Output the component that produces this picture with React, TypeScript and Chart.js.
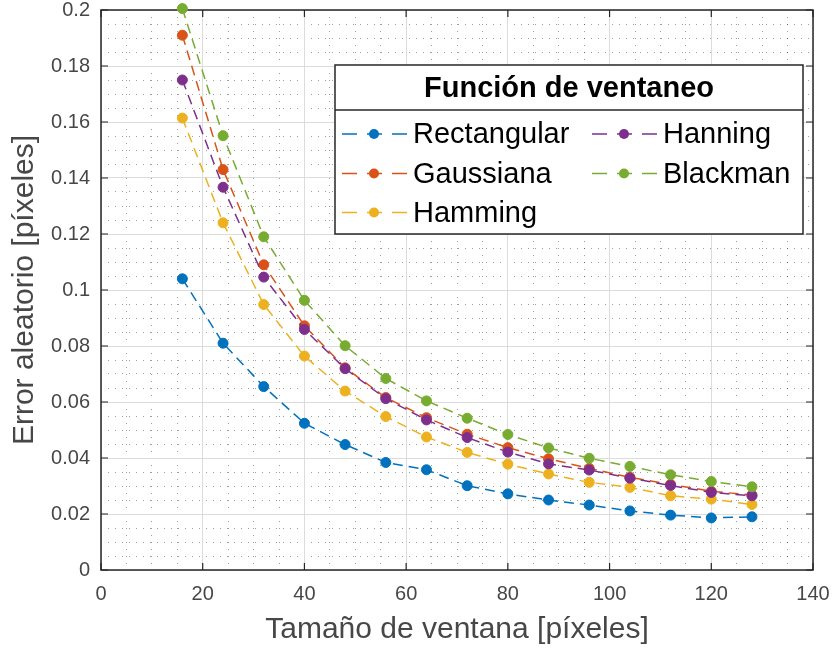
import React, { useEffect, useRef } from "react";
import { Chart, registerables } from "chart.js";

Chart.register(...registerables);

// Window sizes (pixels) evaluated for every window function
const windowSizes = [16, 24, 32, 40, 48, 56, 64, 72, 80, 88, 96, 104, 112, 120, 128];

// Random error (pixels) per window function
const rectangular = [0.104, 0.081, 0.0655, 0.0524, 0.0448, 0.0384, 0.0358, 0.0301, 0.0272, 0.025, 0.0232, 0.0211, 0.0196, 0.0186, 0.019];
const gaussiana = [0.191, 0.143, 0.109, 0.0872, 0.0722, 0.0616, 0.0544, 0.0485, 0.0437, 0.0397, 0.0363, 0.0331, 0.0306, 0.0281, 0.0268];
const hamming = [0.1614, 0.124, 0.0948, 0.0764, 0.0639, 0.0548, 0.0475, 0.042, 0.0378, 0.0343, 0.0313, 0.0295, 0.0265, 0.0253, 0.0234];
const hanning = [0.175, 0.1367, 0.1046, 0.0859, 0.0719, 0.0612, 0.0536, 0.0473, 0.0421, 0.0379, 0.0357, 0.0328, 0.0302, 0.0277, 0.0265];
const blackman = [0.2005, 0.1551, 0.119, 0.0963, 0.0801, 0.0684, 0.0604, 0.0542, 0.0484, 0.0436, 0.0399, 0.037, 0.034, 0.0316, 0.0297];

const seriesNames = ["Rectangular", "Gaussiana", "Hamming", "Hanning", "Blackman"];
const seriesValues = [rectangular, gaussiana, hamming, hanning, blackman];
const seriesColors = ["#0072BD", "#D95319", "#EDB120", "#7E2F8E", "#77AC30"];

const legendTitle = "Función de ventaneo";
const xTitle = "Tamaño de ventana [píxeles]";
const yTitle = "Error aleatorio [píxeles]";

const FONT = '"Liberation Sans", Arial, Helvetica, sans-serif';
const AXIS_DARK = "#262626";
const LABEL_GRAY = "#474747";

// Axes box with inward-pointing major ticks on all four sides
const framePlugin = {
  id: "frameBox",
  beforeDatasetsDraw(chart: any) {
    const { ctx, chartArea, scales } = chart;
    const { left, right, top, bottom } = chartArea;
    const tl = 7;
    ctx.save();
    ctx.strokeStyle = AXIS_DARK;
    ctx.lineWidth = 1.2;
    ctx.beginPath();
    scales.x.ticks.forEach((t: any) => {
      const px = scales.x.getPixelForValue(t.value);
      ctx.moveTo(px, bottom);
      ctx.lineTo(px, bottom - tl);
      ctx.moveTo(px, top);
      ctx.lineTo(px, top + tl);
    });
    scales.y.ticks.forEach((t: any) => {
      const py = scales.y.getPixelForValue(t.value);
      ctx.moveTo(left, py);
      ctx.lineTo(left + tl, py);
      ctx.moveTo(right, py);
      ctx.lineTo(right - tl, py);
    });
    ctx.stroke();
    ctx.lineWidth = 1.5;
    ctx.strokeRect(left, top, right - left, bottom - top);
    ctx.restore();
  },
};

// Boxed legend with a title row and entries laid out in two columns
const legendBoxPlugin = {
  id: "legendBox",
  afterDraw(chart: any) {
    const { ctx } = chart;
    const box = { left: 335, top: 65, right: 803, bottom: 234 };
    const titleBottom = 110;
    const rowY = [134, 173.5, 212.5];
    const colX = [342, 592];
    ctx.save();
    ctx.fillStyle = "#ffffff";
    ctx.fillRect(box.left, box.top, box.right - box.left, box.bottom - box.top);
    ctx.strokeStyle = AXIS_DARK;
    ctx.lineWidth = 1.5;
    ctx.strokeRect(box.left, box.top, box.right - box.left, box.bottom - box.top);
    ctx.beginPath();
    ctx.moveTo(box.left, titleBottom);
    ctx.lineTo(box.right, titleBottom);
    ctx.stroke();

    ctx.fillStyle = "#000000";
    ctx.font = `bold 29px ${FONT}`;
    ctx.textAlign = "center";
    ctx.textBaseline = "middle";
    ctx.fillText(legendTitle, (box.left + box.right) / 2, (box.top + titleBottom) / 2 + 1);

    chart.data.datasets.forEach((ds: any, i: number) => {
      const col = Math.floor(i / 3);
      const row = i % 3;
      const x0 = colX[col];
      const y = rowY[row];
      ctx.strokeStyle = ds.borderColor;
      ctx.lineWidth = 1.5;
      ctx.setLineDash([15, 10]);
      ctx.beginPath();
      ctx.moveTo(x0, y);
      ctx.lineTo(x0 + 65, y);
      ctx.stroke();
      ctx.setLineDash([]);
      ctx.fillStyle = ds.borderColor;
      ctx.beginPath();
      ctx.arc(x0 + 32, y, 5, 0, Math.PI * 2);
      ctx.fill();
      ctx.fillStyle = "#000000";
      ctx.font = `29px ${FONT}`;
      ctx.textAlign = "left";
      ctx.fillText(ds.label, x0 + 71, y + 1);
    });
    ctx.restore();
  },
};

export default function App() {
  const canvasRef = useRef<HTMLCanvasElement | null>(null);

  useEffect(() => {
    const canvas = canvasRef.current;
    if (!canvas) return;

    const datasets = seriesNames.map((name, i) => ({
      label: name,
      data: windowSizes.map((x, j) => ({ x, y: seriesValues[i][j] })),
      borderColor: seriesColors[i],
      backgroundColor: seriesColors[i],
      pointBackgroundColor: seriesColors[i],
      pointBorderColor: seriesColors[i],
      borderWidth: 1.5,
      borderDash: [10, 6],
      pointRadius: 5,
      pointBorderWidth: 1,
      pointHoverRadius: 5,
      tension: 0,
      showLine: true,
      clip: false,
      // later series are painted on top
      order: seriesNames.length - i,
    }));

    const tickFont = { family: FONT, size: 20 };
    const titleFont = { family: FONT, size: 30 };

    const chart = new Chart(canvas, {
      type: "scatter",
      data: { datasets },
      options: {
        animation: false,
        responsive: false,
        devicePixelRatio: 1,
        events: [],
        layout: { padding: { left: 0, top: 10, right: 20, bottom: 0 } },
        plugins: {
          legend: { display: false },
          tooltip: { enabled: false },
        },
        scales: {
          xMinor: {
            type: "linear",
            position: "bottom",
            min: 0,
            max: 140,
            ticks: { display: false, stepSize: 5 },
            grid: { color: "rgba(0,0,0,0.38)", lineWidth: 1, drawTicks: false },
            border: { display: false, dash: [1, 6] },
            afterFit: (s: any) => {
              s.height = 0;
              s.paddingLeft = 0;
              s.paddingRight = 0;
            },
          },
          yMinor: {
            type: "linear",
            position: "left",
            min: 0,
            max: 0.2,
            ticks: { display: false, stepSize: 0.005 },
            grid: { color: "rgba(0,0,0,0.38)", lineWidth: 1, drawTicks: false },
            border: { display: false, dash: [1, 6] },
            afterFit: (s: any) => {
              s.width = 0;
              s.paddingTop = 0;
              s.paddingBottom = 0;
            },
          },
          x: {
            type: "linear",
            position: "bottom",
            min: 0,
            max: 140,
            ticks: {
              stepSize: 20,
              padding: 12,
              color: LABEL_GRAY,
              font: tickFont,
              maxRotation: 0,
              autoSkip: false,
            },
            grid: { color: "#dcdcdc", lineWidth: 1, drawTicks: false },
            border: { display: false },
            title: {
              display: true,
              text: xTitle,
              color: LABEL_GRAY,
              font: titleFont,
              padding: { top: 0, bottom: 2 },
            },
            afterFit: (s: any) => {
              s.height = 80;
              s.paddingLeft = 0;
              s.paddingRight = 0;
            },
          },
          y: {
            type: "linear",
            position: "left",
            min: 0,
            max: 0.2,
            ticks: {
              stepSize: 0.02,
              padding: 11,
              color: LABEL_GRAY,
              font: tickFont,
              autoSkip: false,
              callback: (v: any) => String(Number(Number(v).toFixed(3))),
            },
            grid: { color: "#dcdcdc", lineWidth: 1, drawTicks: false },
            border: { display: false },
            title: {
              display: true,
              text: yTitle,
              color: LABEL_GRAY,
              font: titleFont,
              padding: { top: 7, bottom: 0 },
            },
            afterFit: (s: any) => {
              s.width = 101;
              s.paddingTop = 0;
              s.paddingBottom = 0;
            },
          },
        },
      },
      plugins: [framePlugin, legendBoxPlugin],
    } as any);

    return () => chart.destroy();
  }, []);

  return (
    <div style={{ position: "absolute", left: 0, top: 0, width: 833, height: 650, background: "#ffffff" }}>
      <canvas ref={canvasRef} width={833} height={650} style={{ display: "block" }} />
    </div>
  );
}
